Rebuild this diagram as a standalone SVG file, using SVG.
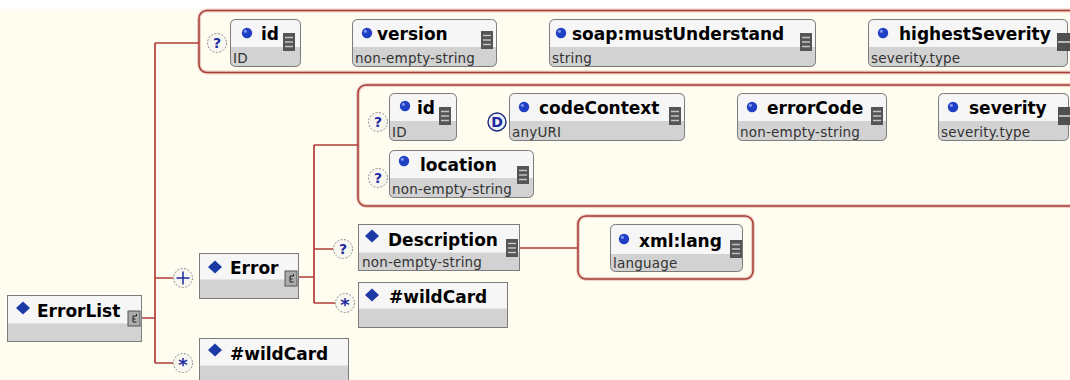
<svg xmlns="http://www.w3.org/2000/svg" xmlns:xlink="http://www.w3.org/1999/xlink" width="1070" height="380" viewBox="0 0 1070 380">
  <style>
    .bg { fill: #fefdf0; }
    .frame-halo { fill: none; stroke: #ecd2c4; stroke-width: 4; }
    .frame { fill: none; stroke: #a83a36; stroke-width: 1.5; }
    .conn { fill: none; stroke: #b23c38; stroke-width: 1.7; }
    .band { fill: #d2d2d2; }
    .head { fill: #f6f6f6; }
    .edge { fill: none; stroke: #7c7c7c; stroke-width: 1; }
    .name { font-family: "DejaVu Sans", Verdana, sans-serif; font-weight: bold; font-size: 17px; fill: #000; }
    .type { font-family: "DejaVu Sans", Verdana, sans-serif; font-size: 13.5px; letter-spacing: 0.2px; fill: #333; }
    .occ circle { fill: #f7f7ef; stroke: #8a8a8a; stroke-width: 1; stroke-dasharray: 2 1.5; }
    .occ text { font-family: "DejaVu Sans", Verdana, sans-serif; font-weight: bold; font-size: 14px; fill: #1f2aa0; text-anchor: middle; }
    .occ text.star { font-size: 18px; }
    .occ.dflt circle { stroke: #1f2a80; stroke-dasharray: none; stroke-width: 1.4; fill: #eef0fa; }
  </style>
  <defs>
    <!-- simple type icon -->
    <g id="st">
      <rect width="12" height="18" fill="#555"/>
      <path d="M2 4.5H10M2 9H10M2 13.5H10" stroke="#c4c4c4" stroke-width="1.4"/>
    </g>
    <!-- enumerated type icon -->
    <g id="en">
      <rect width="13" height="18" fill="#505050"/>
      <path d="M1 9H13" stroke="#c4c4c4" stroke-width="1.8"/>
    </g>
    <!-- content model icon -->
    <g id="cm">
      <rect width="12" height="15" fill="#a9aca8" stroke="#555" stroke-width="1"/>
      <path d="M8.5 5H5V11H8.5M5 8H7.5M8.5 3V5" fill="none" stroke="#222" stroke-width="1"/>
    </g>
    <!-- attribute bullet -->
    <g id="dot">
      <circle r="5.2" fill="#1f3fc4"/>
      <circle cx="-1.6" cy="-1.7" r="1.6" fill="#7f98ee"/>
    </g>
    <!-- element bullet -->
    <path id="dia" d="M0 -6.5L7 0L0 6.5L-7 0Z" fill="#1c3aa6"/>
  </defs>

  <rect class="bg" width="1070" height="380"/>
  <rect width="1070" height="9" fill="#ffffff"/>

  <!-- attribute group frames -->
  <g id="frames">
    <rect class="frame-halo" x="199" y="10.5" width="900" height="62" rx="8"/>
    <rect class="frame" x="199" y="10.5" width="900" height="62" rx="8"/>
    <rect class="frame-halo" x="358" y="85" width="740" height="121" rx="8"/>
    <rect class="frame" x="358" y="85" width="740" height="121" rx="8"/>
    <rect class="frame-halo" x="578" y="216" width="175" height="63" rx="8"/>
    <rect class="frame" x="578" y="216" width="175" height="63" rx="8"/>
  </g>

  <g id="connectors">
    <path class="conn" d="M142 318H155M155 43V363M155 43H199M155 278H173M155 363H173"/>
    <path class="conn" d="M298 277H314M314 145V303M314 145H358M314 249H333M314 303H335"/>
    <path class="conn" d="M520 248H578"/>
  </g>

  <!-- occurrence markers -->
  <g id="occurrences">
    <g class="occ"><circle cx="217" cy="43" r="9.5"/><text x="217" y="48">?</text></g>
    <g class="occ"><circle cx="378" cy="122" r="9.5"/><text x="378" y="127">?</text></g>
    <g class="occ dflt"><circle cx="497" cy="122" r="9"/><text x="497" y="127">D</text></g>
    <g class="occ"><circle cx="378" cy="178" r="9.5"/><text x="378" y="183">?</text></g>
    <g class="occ"><circle cx="183" cy="278" r="9.5"/><path d="M176.5 278H189.5M183 271.5V284.5" stroke="#1f2aa0" stroke-width="1.5"/></g>
    <g class="occ"><circle cx="183" cy="363" r="9.5"/><text class="star" x="183" y="371">*</text></g>
    <g class="occ"><circle cx="343" cy="249" r="9.5"/><text x="343" y="254">?</text></g>
    <g class="occ"><circle cx="345" cy="303" r="9.5"/><text class="star" x="345" y="311">*</text></g>
  </g>

  <!-- ErrorList attributes -->
  <g id="attr-id" transform="translate(230,19)">
    <rect class="band" width="71" height="48" rx="5"/>
    <path class="head" d="M0.5 28V5.5Q0.5 0.5 5.5 0.5H65.5Q70.5 0.5 70.5 5.5V28Z"/>
    <rect class="edge" x="0.5" y="0.5" width="70" height="47" rx="5"/>
    <use xlink:href="#dot" x="17" y="14"/>
    <text class="name" x="31" y="21">id</text>
    <text class="type" x="3" y="44">ID</text>
    <use xlink:href="#st" x="53" y="14"/>
  </g>
  <g id="attr-version" transform="translate(352,19)">
    <rect class="band" width="145" height="48" rx="5"/>
    <path class="head" d="M0.5 28V5.5Q0.5 0.5 5.5 0.5H139.5Q144.5 0.5 144.5 5.5V28Z"/>
    <rect class="edge" x="0.5" y="0.5" width="144" height="47" rx="5"/>
    <use xlink:href="#dot" x="15" y="14"/>
    <text class="name" x="25" y="21">version</text>
    <text class="type" x="3" y="44">non-empty-string</text>
    <use xlink:href="#st" x="129" y="12"/>
  </g>
  <g id="attr-mustUnderstand" transform="translate(549,19)">
    <rect class="band" width="267" height="48" rx="5"/>
    <path class="head" d="M0.5 28V5.5Q0.5 0.5 5.5 0.5H261.5Q266.5 0.5 266.5 5.5V28Z"/>
    <rect class="edge" x="0.5" y="0.5" width="266" height="47" rx="5"/>
    <use xlink:href="#dot" x="12" y="14"/>
    <text class="name" x="23" y="21">soap:mustUnderstand</text>
    <text class="type" x="3" y="44">string</text>
    <use xlink:href="#st" x="251" y="14"/>
  </g>
  <g id="attr-highestSeverity" transform="translate(868,19)">
    <rect class="band" width="200" height="48" rx="5"/>
    <path class="head" d="M0.5 28V5.5Q0.5 0.5 5.5 0.5H194.5Q199.5 0.5 199.5 5.5V28Z"/>
    <rect class="edge" x="0.5" y="0.5" width="199" height="47" rx="5"/>
    <use xlink:href="#dot" x="15" y="14"/>
    <text class="name" x="31" y="21">highestSeverity</text>
    <text class="type" x="3" y="44">severity.type</text>
    <use xlink:href="#en" x="189" y="14"/>
  </g>

  <!-- Error attributes -->
  <g id="err-id" transform="translate(389,93)">
    <rect class="band" width="68" height="48" rx="5"/>
    <path class="head" d="M0.5 28V5.5Q0.5 0.5 5.5 0.5H62.5Q67.5 0.5 67.5 5.5V28Z"/>
    <rect class="edge" x="0.5" y="0.5" width="67" height="47" rx="5"/>
    <use xlink:href="#dot" x="16" y="13"/>
    <text class="name" x="28" y="21">id</text>
    <text class="type" x="3" y="44">ID</text>
    <use xlink:href="#st" x="50" y="14"/>
  </g>
  <g id="err-codeContext" transform="translate(509,93)">
    <rect class="band" width="176" height="48" rx="5"/>
    <path class="head" d="M0.5 28V5.5Q0.5 0.5 5.5 0.5H170.5Q175.5 0.5 175.5 5.5V28Z"/>
    <rect class="edge" x="0.5" y="0.5" width="175" height="47" rx="5"/>
    <use xlink:href="#dot" x="15" y="14"/>
    <text class="name" x="30" y="21">codeContext</text>
    <text class="type" x="3" y="44">anyURI</text>
    <use xlink:href="#st" x="160" y="14"/>
  </g>
  <g id="err-errorCode" transform="translate(737,93)">
    <rect class="band" width="150" height="48" rx="5"/>
    <path class="head" d="M0.5 28V5.5Q0.5 0.5 5.5 0.5H144.5Q149.5 0.5 149.5 5.5V28Z"/>
    <rect class="edge" x="0.5" y="0.5" width="149" height="47" rx="5"/>
    <use xlink:href="#dot" x="15" y="14"/>
    <text class="name" x="30" y="21">errorCode</text>
    <text class="type" x="3" y="44">non-empty-string</text>
    <use xlink:href="#st" x="134" y="14"/>
  </g>
  <g id="err-severity" transform="translate(938,93)">
    <rect class="band" width="131" height="48" rx="5"/>
    <path class="head" d="M0.5 28V5.5Q0.5 0.5 5.5 0.5H125.5Q130.5 0.5 130.5 5.5V28Z"/>
    <rect class="edge" x="0.5" y="0.5" width="130" height="47" rx="5"/>
    <use xlink:href="#dot" x="15" y="14"/>
    <text class="name" x="31" y="21">severity</text>
    <text class="type" x="3" y="44">severity.type</text>
    <use xlink:href="#en" x="120" y="14"/>
  </g>
  <g id="err-location" transform="translate(389,150)">
    <rect class="band" width="145" height="48" rx="5"/>
    <path class="head" d="M0.5 28V5.5Q0.5 0.5 5.5 0.5H139.5Q144.5 0.5 144.5 5.5V28Z"/>
    <rect class="edge" x="0.5" y="0.5" width="144" height="47" rx="5"/>
    <use xlink:href="#dot" x="15" y="11"/>
    <text class="name" x="31" y="21">location</text>
    <text class="type" x="3" y="44">non-empty-string</text>
    <use xlink:href="#st" x="128" y="16"/>
  </g>

  <!-- Description attribute -->
  <g id="desc-lang" transform="translate(610,224)">
    <rect class="band" width="133" height="48" rx="5"/>
    <path class="head" d="M0.5 30V5.5Q0.5 0.5 5.5 0.5H127.5Q132.5 0.5 132.5 5.5V30Z"/>
    <rect class="edge" x="0.5" y="0.5" width="132" height="47" rx="5"/>
    <use xlink:href="#dot" x="14" y="15"/>
    <text class="name" x="29" y="23">xml:lang</text>
    <text class="type" x="3" y="44">language</text>
    <use xlink:href="#st" x="120" y="16"/>
  </g>

  <!-- elements -->
  <g id="el-ErrorList" transform="translate(7,295)">
    <rect class="band" width="135" height="47"/>
    <rect class="head" x="0.5" y="0.5" width="134" height="28"/>
    <rect class="edge" x="0.5" y="0.5" width="134" height="46"/>
    <use xlink:href="#dia" x="16" y="13"/>
    <text class="name" x="30" y="22">ErrorList</text>
    <use xlink:href="#cm" x="121" y="16"/>
  </g>
  <g id="el-Error" transform="translate(199,253)">
    <rect class="band" width="100" height="46"/>
    <rect class="head" x="0.5" y="0.5" width="99" height="26"/>
    <rect class="edge" x="0.5" y="0.5" width="99" height="45"/>
    <use xlink:href="#dia" x="16" y="14"/>
    <text class="name" x="31" y="21">Error</text>
    <use xlink:href="#cm" x="86" y="18"/>
  </g>
  <g id="el-wildCard-list" transform="translate(199,338)">
    <rect class="band" width="150" height="47"/>
    <rect class="head" x="0.5" y="0.5" width="149" height="27"/>
    <rect class="edge" x="0.5" y="0.5" width="149" height="46"/>
    <use xlink:href="#dia" x="16" y="12"/>
    <text class="name" x="31" y="22">#wildCard</text>
  </g>
  <g id="el-Description" transform="translate(358,224)">
    <rect class="band" width="162" height="47"/>
    <rect class="head" x="0.5" y="0.5" width="161" height="28"/>
    <rect class="edge" x="0.5" y="0.5" width="161" height="46"/>
    <use xlink:href="#dia" x="14" y="12"/>
    <text class="name" x="30" y="22">Description</text>
    <text class="type" x="4" y="43">non-empty-string</text>
    <use xlink:href="#st" x="148" y="15"/>
  </g>
  <g id="el-wildCard-error" transform="translate(358,282)">
    <rect class="band" width="150" height="46"/>
    <rect class="head" x="0.5" y="0.5" width="149" height="26"/>
    <rect class="edge" x="0.5" y="0.5" width="149" height="45"/>
    <use xlink:href="#dia" x="14" y="13"/>
    <text class="name" x="31" y="21">#wildCard</text>
  </g>
</svg>
